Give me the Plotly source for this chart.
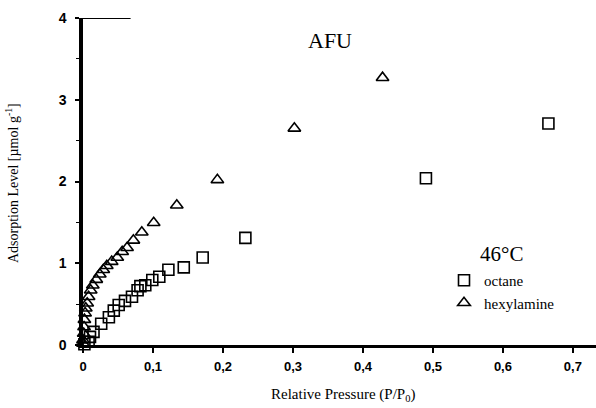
import plotly.graph_objects as go

# Data (P/P0, adsorption level µmol/g)
octane_x = [0.002, 0.008, 0.010, 0.015, 0.026, 0.037, 0.044, 0.051, 0.060, 0.070,
            0.078, 0.082, 0.089, 0.099, 0.109, 0.122, 0.144, 0.171, 0.232, 0.490, 0.665]
octane_y = [0.01, 0.04, 0.10, 0.16, 0.26, 0.34, 0.42, 0.49, 0.54, 0.59,
            0.67, 0.72, 0.73, 0.795, 0.835, 0.92, 0.95, 1.07, 1.31, 2.04, 2.71]

hexyl_x = [0.000, 0.000, 0.001, 0.0015, 0.002, 0.003, 0.004, 0.006, 0.008, 0.011,
           0.014, 0.019, 0.024, 0.029, 0.034, 0.041, 0.049, 0.056, 0.063, 0.072,
           0.084, 0.101, 0.134, 0.192, 0.302, 0.428]
hexyl_y = [0.02, 0.06, 0.14, 0.22, 0.31, 0.39, 0.45, 0.51, 0.59, 0.67,
           0.73, 0.80, 0.865, 0.92, 0.97, 1.02, 1.07, 1.14, 1.19, 1.28,
           1.38, 1.496, 1.71, 2.02, 2.65, 3.27]

x_ticks = [0, 0.1, 0.2, 0.3, 0.4, 0.5, 0.6, 0.7]
x_tick_labels = ["0", "0,1", "0,2", "0,3", "0,4", "0,5", "0,6", "0,7"]
y_ticks = [0, 1, 2, 3, 4]

serif = "Liberation Serif, Times New Roman, serif"
sans = "Liberation Sans, Arial, sans-serif"

# plot area in pixels: left 83, top 18, width 513, height 327
L, T, W, H = 83, 18, 513, 327


def px_to_paper(px, py):
    return (px - L) / W, (T + H - py) / H


fig = go.Figure()
fig.add_trace(go.Scatter(
    x=octane_x, y=octane_y, mode="markers", name="octane",
    marker=dict(symbol="square-open", size=11, color="black", line=dict(width=1.6, color="black")),
    cliponaxis=False))
fig.add_trace(go.Scatter(
    x=hexyl_x, y=hexyl_y, mode="markers", name="hexylamine",
    marker=dict(symbol="triangle-up-open", size=11, color="black", line=dict(width=1.6, color="black")),
    cliponaxis=False))

lx, ly = px_to_paper(444, 264)
xt_x, xt_y = px_to_paper(343, 395)
yt_x, yt_y = px_to_paper(12, 183)

fig.update_layout(
    width=596, height=408,
    margin=dict(l=L, r=596 - L - W, t=T, b=408 - T - H),
    plot_bgcolor="white", paper_bgcolor="white",
    showlegend=True,
    legend=dict(x=lx, y=ly, xanchor="left", yanchor="top",
                font=dict(family=serif, size=15, color="black"),
                bgcolor="rgba(0,0,0,0)", itemwidth=30, tracegroupgap=0),
    xaxis=dict(range=[0, 0.733], showgrid=False, zeroline=False,
               showline=True, linecolor="black", linewidth=2.5,
               ticks="outside", ticklen=5, tickwidth=1.5, tickcolor="black",
               tickvals=x_ticks, ticktext=x_tick_labels,
               tickfont=dict(family=sans, size=13, color="black", weight="bold"),
               ticklabelstandoff=3),
    yaxis=dict(range=[0, 4], showgrid=False, zeroline=False,
               showline=True, linecolor="black", linewidth=3.5,
               ticks="outside", ticklen=4, tickwidth=1.5, tickcolor="black",
               tickvals=y_ticks,
               minor=dict(dtick=0.5, ticks="outside", ticklen=3, tickcolor="black", tickwidth=1),
               tickfont=dict(family=sans, size=14, color="black", weight="bold"),
               ticklabelstandoff=6),
    shapes=[dict(type="line", xref="x", yref="y", x0=-0.006, x1=0.068, y0=4, y1=4,
                 line=dict(color="black", width=2))],
    annotations=[
        dict(text="AFU", x=0.353, y=3.72, xref="x", yref="y", showarrow=False,
             font=dict(family=serif, size=22, color="black")),
        dict(text="46°C", x=0.5986, y=1.117, xref="x", yref="y", showarrow=False,
             font=dict(family=serif, size=21, color="black")),
        dict(text="Relative Pressure (P/P<sub>0</sub>)", x=xt_x, y=xt_y,
             xref="paper", yref="paper", showarrow=False, xanchor="center", yanchor="middle",
             font=dict(family=serif, size=15, color="black")),
        dict(text="Adsorption Level [µmol g<sup>-1</sup>]", x=yt_x, y=yt_y,
             xref="paper", yref="paper", showarrow=False, textangle=-90,
             xanchor="center", yanchor="middle",
             font=dict(family=serif, size=14, color="black")),
    ],
)

fig.write_html("out.html")
